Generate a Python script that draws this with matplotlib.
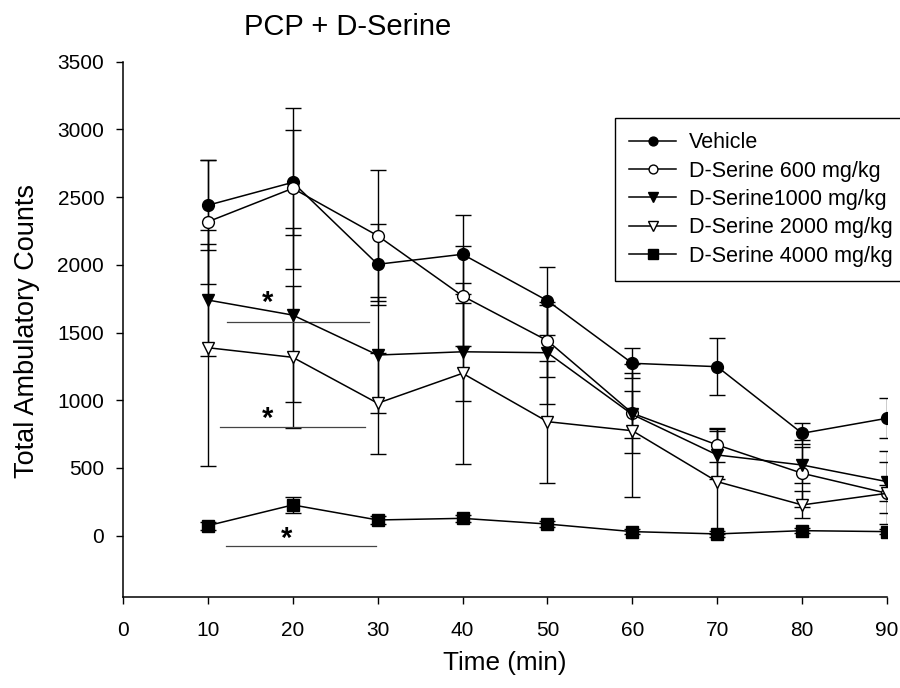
import matplotlib
matplotlib.use('Agg')
import matplotlib.pyplot as plt

plt.rcParams['font.family'] = ['Liberation Sans', 'DejaVu Sans']

# ---- data ----
time = [10, 20, 30, 40, 50, 60, 70, 80, 90]
labels = ['Vehicle', 'D-Serine 600 mg/kg', 'D-Serine1000 mg/kg',
          'D-Serine 2000 mg/kg', 'D-Serine 4000 mg/kg']
vehicle = [2440, 2609, 2004, 2078, 1735, 1273, 1248, 756, 867]
vehicle_se = [334, 386, 297, 290, 251, 111, 209, 78, 147]
ds600 = [2318, 2565, 2215, 1770, 1440, 904, 670, 461, 313]
ds600_se = [456, 595, 485, 370, 265, 297, 128, 248, 230]
ds1000 = [1740, 1629, 1334, 1358, 1351, 895, 596, 522, 399]
ds1000_se = [415, 640, 430, 360, 375, 173, 180, 136, 230]
ds2000 = [1388, 1317, 978, 1199, 842, 775, 399, 227, 313]
ds2000_se = [870, 525, 372, 668, 450, 490, 390, 100, 60]
ds4000 = [74, 227, 116, 128, 86, 30, 13, 37, 30]
ds4000_se = [30, 60, 30, 25, 25, 20, 20, 20, 20]

# significance bars and stars
sig_x_start = [12.3, 11.4, 12.1]
sig_x_end = [29.0, 28.5, 29.8]
sig_y = [1580, 805, -76]
star_x = [17.0, 17.0, 19.3]
star_y = [1660, 800, -80]

xticks = [0, 10, 20, 30, 40, 50, 60, 70, 80, 90]
yticks = [0, 500, 1000, 1500, 2000, 2500, 3000, 3500]

# ---- figure ----
fig = plt.figure(figsize=(9, 6.88), dpi=100)
ax = fig.add_axes([123/900, 1-597.3/688, (887-123)/900, (597.3-61.7)/688])

series = [(vehicle, vehicle_se, 'o', 'black', 8.5),
          (ds600, ds600_se, 'o', 'white', 8.5),
          (ds1000, ds1000_se, 'v', 'black', 9),
          (ds2000, ds2000_se, 'v', 'white', 9),
          (ds4000, ds4000_se, 's', 'black', 9)]

handles = []
for (vals, se, mk, fc, ms), lab in zip(series, labels):
    c = ax.errorbar(time, vals, yerr=se, fmt='-', marker=mk, color='black',
                    markerfacecolor=fc, markeredgecolor='black', markersize=ms,
                    markeredgewidth=1.0, linewidth=1.1, elinewidth=1.0,
                    capsize=5.6, capthick=1.0, label=lab)
    handles.append(c.lines[0])

for xs, xe, y in zip(sig_x_start, sig_x_end, sig_y):
    ax.plot([xs, xe], [y, y], color='#444444', linewidth=0.9)
for x, y in zip(star_x, star_y):
    ax.text(x, y, '*', ha='center', va='baseline', fontsize=21,
            fontweight='bold')

ax.set_xlim(0, 90)
ax.set_ylim(-455, 3500)
ax.set_xticks(xticks)
ax.set_yticks(yticks)
ax.tick_params(axis='both', direction='out', length=5, width=1,
               labelsize=15)
ax.tick_params(axis='y', pad=8.5)
ax.tick_params(axis='x', pad=12)
for s in ['top', 'right']:
    ax.spines[s].set_visible(False)
for s in ['left', 'bottom']:
    ax.spines[s].set_linewidth(1.1)

fig.text(348/900, 1-35/688, 'PCP + D-Serine', ha='center', va='baseline',
         fontsize=21)
fig.text(27/900, 1-331/688, 'Total Ambulatory Counts', rotation=90,
         ha='center', va='center', fontsize=19.5)
fig.text(505/900, 1-663/688, 'Time (min)', ha='center', va='center',
         fontsize=18.8)

leg = fig.legend(handles=handles, labels=labels, loc='upper left',
                 bbox_to_anchor=(615/900, 1-118.3/688), fontsize=15.5,
                 frameon=True, fancybox=False, edgecolor='black',
                 framealpha=1, markerscale=0.75, handlelength=2.2,
                 handletextpad=0.6, labelspacing=0.34, borderpad=0.65,
                 borderaxespad=0)
leg.get_frame().set_linewidth(1.0)

fig.savefig('out.png', dpi=100)
